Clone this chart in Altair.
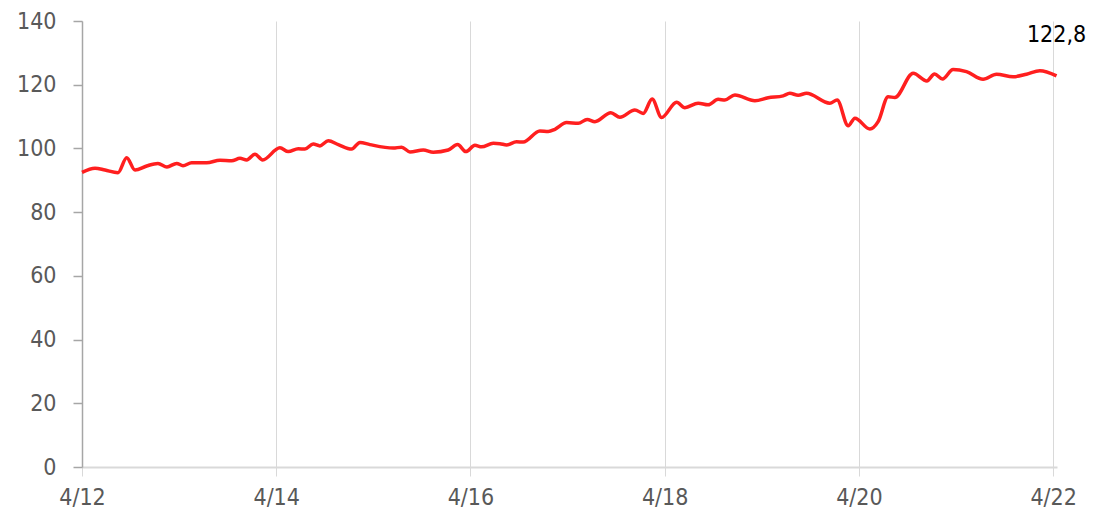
import altair as alt
import pandas as pd

# days elapsed since 4/12 00:00
days = [0.0, 0.134, 0.237, 0.371, 0.460, 0.546, 0.666, 0.782, 0.875, 0.975,
        1.040, 1.129, 1.284, 1.421, 1.541, 1.627, 1.696, 1.781, 1.860, 2.038,
        2.124, 2.227, 2.296, 2.381, 2.450, 2.536, 2.639, 2.777, 2.862, 2.965,
        3.205, 3.291, 3.377, 3.514, 3.617, 3.771, 3.868, 3.953, 4.046, 4.115,
        4.235, 4.303, 4.372, 4.475, 4.543, 4.715, 4.801, 4.870, 4.990, 5.110,
        5.202, 5.282, 5.446, 5.539, 5.693, 5.779, 5.871, 5.968, 6.123, 6.208,
        6.345, 6.448, 6.551, 6.620, 6.723, 6.929, 7.066, 7.220, 7.289, 7.375,
        7.461, 7.701, 7.776, 7.890, 7.959, 8.113, 8.198, 8.301, 8.370, 8.559,
        8.700, 8.779, 8.861, 8.970, 9.108, 9.279, 9.417, 9.588, 9.726, 9.863,
        10.035]
values = [92.5, 93.8, 93.2, 92.4, 97.1, 93.2, 94.5, 95.3, 94.2, 95.3,
          94.6, 95.5, 95.5, 96.3, 96.1, 96.9, 96.4, 98.2, 96.4, 100.2,
          99.0, 99.9, 99.8, 101.4, 100.8, 102.4, 101.2, 99.8, 101.9, 101.2,
          100.1, 100.4, 98.9, 99.5, 98.8, 99.5, 101.2, 99.0, 101.0, 100.5,
          101.6, 101.5, 101.1, 102.1, 102.0, 105.5, 105.3, 106.0, 108.1, 107.9,
          109.1, 108.4, 111.2, 109.8, 112.1, 111.0, 115.5, 109.7, 114.5, 112.8,
          114.2, 113.7, 115.4, 115.2, 116.8, 115.0, 115.9, 116.5, 117.3, 116.7,
          117.3, 114.2, 115.2, 107.1, 109.5, 106.1, 108.4, 116.2, 116.0, 123.6,
          121.2, 123.4, 121.8, 124.8, 124.1, 121.7, 123.3, 122.5, 123.3, 124.4,
          122.8]
tick_days = [0, 2, 4, 6, 8, 10]
tick_labels = ["4/12", "4/14", "4/16", "4/18", "4/20", "4/22"]
end_label = ["122,8"]

df = pd.DataFrame({"day": days, "value": values})
lab = pd.DataFrame({"day": [days[-1]], "value": [values[-1]], "text": end_label})

FONT = "DejaVu Sans Condensed, Liberation Sans"
label_expr = "[" + ",".join("'%s'" % t for t in tick_labels) + "][round(datum.value/2)]"

x = alt.X("day:Q",
          scale=alt.Scale(domain=[0, 10.04], nice=False, zero=False),
          axis=alt.Axis(values=tick_days, labelExpr=label_expr, title=None,
                        grid=True, gridColor="#D9D9D9", gridWidth=1,
                        domainColor="#D9D9D9", domainWidth=2,
                        tickColor="#D9D9D9", tickSize=9, tickWidth=1,
                        labelFlush=False, labelPadding=10,
                        labelFont=FONT, labelFontSize=23, labelColor="#595959"))
y = alt.Y("value:Q",
          scale=alt.Scale(domain=[0, 140], nice=False),
          axis=alt.Axis(values=[0, 20, 40, 60, 80, 100, 120, 140], title=None,
                        grid=False, domainColor="#A6A6A6", domainWidth=1.5,
                        tickColor="#A6A6A6", tickSize=9, tickWidth=1.5,
                        labelPadding=17,
                        labelFont=FONT, labelFontSize=23, labelColor="#595959"))

line = alt.Chart(df).mark_line(color="#FF1F1F", strokeWidth=3.5,
                               interpolate="monotone").encode(x=x, y=y)
text = alt.Chart(lab).mark_text(font=FONT, fontSize=23, color="#000000",
                                dy=-41, align="center").encode(
    x=alt.X("day:Q"), y=alt.Y("value:Q"), text="text:N")

chart = (line + text).properties(
    width=975, height=446,
    autosize=alt.AutoSizeParams(type="none"),
    padding={"left": 74, "top": 13, "right": 29, "bottom": 47},
).configure_view(stroke=None)

chart.save("out.html", embed_options={"renderer": "svg", "actions": False})
